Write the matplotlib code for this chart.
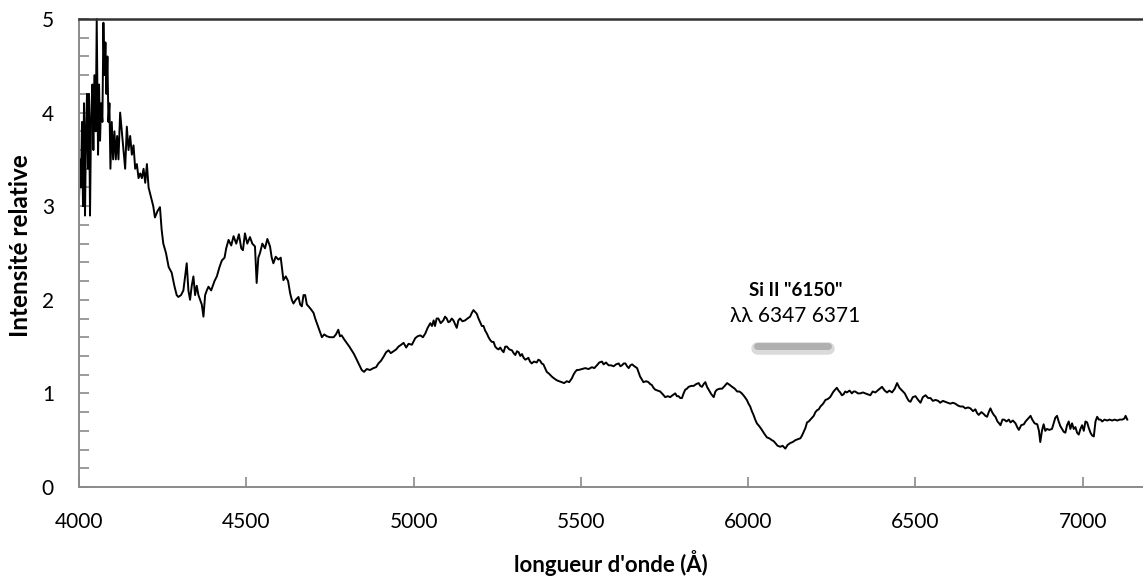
import numpy as np
import matplotlib
matplotlib.use("Agg")
import matplotlib.pyplot as plt
from matplotlib.ticker import MultipleLocator

# spectrum (wavelength in Angstrom, relative intensity)
wavelength = [
    4000, 4003, 4006, 4009, 4012, 4015, 4018, 4021, 4024, 4027, 4030, 4033, 4036, 4040,
    4043, 4046, 4050, 4053, 4057, 4060, 4063, 4066, 4070, 4073, 4076, 4079, 4082, 4085,
    4088, 4091, 4094, 4098, 4102, 4106, 4110, 4114, 4118, 4123, 4128, 4133, 4138, 4143,
    4148, 4153, 4158, 4163, 4168, 4173, 4178, 4183, 4188, 4193, 4198, 4203, 4208, 4215,
    4222, 4227, 4235, 4242, 4247, 4252, 4260, 4268, 4277, 4285, 4292, 4297, 4305, 4312,
    4317, 4322, 4327, 4332, 4337, 4342, 4347, 4352, 4357, 4362, 4367, 4372, 4377, 4382,
    4387, 4395, 4405, 4412, 4420, 4427, 4435, 4440, 4447, 4455, 4462, 4470, 4478, 4485,
    4490, 4496, 4503, 4511, 4518, 4526, 4531, 4536, 4541, 4548, 4556, 4563, 4571, 4576,
    4581, 4588, 4596, 4603, 4611, 4618, 4625, 4631, 4636, 4641, 4648, 4656, 4661, 4666,
    4671, 4676, 4681, 4686, 4693, 4701, 4706, 4711, 4718, 4726, 4733, 4741, 4750, 4761,
    4768, 4775, 4780, 4785, 4792, 4800, 4808, 4815, 4822, 4830, 4838, 4845, 4852, 4860,
    4870, 4880, 4888, 4895, 4903, 4910, 4918, 4925, 4932, 4940, 4948, 4955, 4963, 4970,
    4978, 4985, 4995, 5005, 5012, 5020, 5028, 5035, 5042, 5050, 5055, 5060, 5064, 5069,
    5074, 5081, 5089, 5094, 5099, 5104, 5109, 5114, 5119, 5124, 5129, 5134, 5139, 5146,
    5154, 5161, 5169, 5174, 5179, 5184, 5189, 5194, 5199, 5204, 5209, 5214, 5219, 5224,
    5229, 5234, 5239, 5244, 5249, 5254, 5259, 5264, 5269, 5274, 5279, 5286, 5294, 5299,
    5304, 5309, 5314, 5319, 5324, 5329, 5334, 5339, 5343, 5348, 5353, 5360, 5368, 5373,
    5378, 5383, 5388, 5393, 5398, 5405, 5413, 5420, 5428, 5435, 5443, 5450, 5458, 5465,
    5473, 5478, 5483, 5488, 5493, 5503, 5513, 5523, 5533, 5540, 5548, 5555, 5563, 5568,
    5575, 5583, 5590, 5598, 5605, 5613, 5618, 5623, 5628, 5633, 5638, 5643, 5648, 5653,
    5660, 5668, 5673, 5677, 5682, 5687, 5695, 5702, 5707, 5712, 5717, 5722, 5730, 5737,
    5745, 5752, 5760, 5767, 5774, 5782, 5787, 5792, 5797, 5802, 5807, 5812, 5817, 5822,
    5830, 5837, 5845, 5852, 5857, 5862, 5867, 5872, 5877, 5882, 5890, 5897, 5902, 5907,
    5915, 5922, 5930, 5937, 5945, 5952, 5960, 5967, 5974, 5981, 5988, 5996, 6001, 6006,
    6011, 6016, 6021, 6026, 6033, 6041, 6048, 6056, 6063, 6071, 6076, 6081, 6088, 6096,
    6103, 6111, 6118, 6126, 6133, 6141, 6148, 6156, 6161, 6166, 6171, 6176, 6181, 6186,
    6191, 6196, 6201, 6206, 6211, 6216, 6224, 6231, 6238, 6245, 6250, 6255, 6260, 6265,
    6270, 6275, 6280, 6285, 6290, 6295, 6303, 6310, 6315, 6320, 6328, 6335, 6343, 6350,
    6358, 6365, 6372, 6380, 6390, 6400, 6408, 6415, 6422, 6430, 6438, 6445, 6452, 6460,
    6468, 6475, 6480, 6485, 6492, 6500, 6508, 6515, 6522, 6530, 6538, 6545, 6552, 6560,
    6568, 6574, 6582, 6589, 6597, 6604, 6612, 6619, 6627, 6634, 6642, 6649, 6657, 6664,
    6672, 6679, 6684, 6689, 6697, 6704, 6709, 6714, 6719, 6724, 6729, 6734, 6739, 6745,
    6750, 6754, 6760, 6765, 6772, 6779, 6784, 6791, 6799, 6804, 6809, 6816, 6824, 6829,
    6834, 6839, 6844, 6849, 6856, 6864, 6869, 6873, 6878, 6883, 6888, 6893, 6900, 6908,
    6913, 6918, 6923, 6928, 6933, 6938, 6943, 6948, 6953, 6958, 6963, 6968, 6973, 6978,
    6983, 6988, 6993, 6998, 7003, 7008, 7013, 7018, 7023, 7028, 7033, 7038, 7043, 7048,
    7053, 7058, 7065, 7073, 7080, 7088, 7095, 7103, 7110, 7118, 7124, 7128, 7133,
]
intensity = [
    3.07, 3.50, 3.20, 3.90, 3.00, 4.10, 2.90, 3.80, 4.20, 3.40, 4.20, 2.90, 3.90, 4.30,
    3.60, 4.40, 3.80, 5.00, 3.55, 4.30, 3.70, 4.10, 3.90, 4.96, 4.40, 4.75, 4.20, 4.60,
    3.90, 4.10, 3.40, 3.90, 3.50, 3.80, 3.50, 3.75, 3.50, 4.00, 3.80, 3.60, 3.40, 3.85,
    3.60, 3.75, 3.55, 3.65, 3.40, 3.45, 3.30, 3.35, 3.30, 3.40, 3.25, 3.45, 3.20, 3.10,
    3.00, 2.88, 2.95, 2.99, 2.75, 2.60, 2.50, 2.35, 2.29, 2.15, 2.05, 2.03, 2.05, 2.10,
    2.25, 2.39, 2.10, 2.00, 2.15, 2.25, 2.05, 2.15, 2.05, 2.00, 1.95, 1.82, 2.05, 2.10,
    2.14, 2.10, 2.20, 2.25, 2.35, 2.42, 2.45, 2.55, 2.64, 2.58, 2.68, 2.60, 2.70, 2.55,
    2.53, 2.71, 2.60, 2.67, 2.60, 2.57, 2.18, 2.45, 2.50, 2.60, 2.55, 2.65, 2.57, 2.45,
    2.39, 2.46, 2.43, 2.45, 2.21, 2.25, 2.20, 2.07, 2.00, 1.96, 2.00, 2.03, 1.95, 1.93,
    2.05, 2.05, 1.95, 1.93, 1.90, 1.86, 1.80, 1.75, 1.68, 1.60, 1.63, 1.61, 1.60, 1.60,
    1.63, 1.68, 1.61, 1.62, 1.58, 1.54, 1.50, 1.46, 1.42, 1.36, 1.30, 1.25, 1.23, 1.26,
    1.25, 1.27, 1.28, 1.32, 1.35, 1.39, 1.44, 1.46, 1.43, 1.45, 1.47, 1.50, 1.52, 1.54,
    1.49, 1.53, 1.52, 1.59, 1.61, 1.62, 1.60, 1.64, 1.70, 1.75, 1.72, 1.78, 1.72, 1.80,
    1.80, 1.75, 1.78, 1.82, 1.80, 1.76, 1.77, 1.80, 1.78, 1.74, 1.70, 1.78, 1.80, 1.77,
    1.78, 1.80, 1.82, 1.86, 1.89, 1.87, 1.85, 1.80, 1.76, 1.72, 1.72, 1.67, 1.64, 1.60,
    1.57, 1.55, 1.55, 1.50, 1.48, 1.47, 1.49, 1.46, 1.44, 1.50, 1.50, 1.47, 1.46, 1.43,
    1.41, 1.45, 1.44, 1.40, 1.42, 1.38, 1.36, 1.37, 1.38, 1.34, 1.32, 1.34, 1.33, 1.36,
    1.35, 1.32, 1.31, 1.27, 1.23, 1.21, 1.18, 1.16, 1.14, 1.13, 1.12, 1.11, 1.13, 1.12,
    1.16, 1.20, 1.23, 1.25, 1.25, 1.26, 1.27, 1.26, 1.28, 1.27, 1.30, 1.33, 1.34, 1.31,
    1.33, 1.30, 1.30, 1.29, 1.31, 1.32, 1.29, 1.30, 1.32, 1.32, 1.29, 1.27, 1.30, 1.31,
    1.29, 1.27, 1.22, 1.18, 1.15, 1.12, 1.13, 1.12, 1.10, 1.09, 1.06, 1.04, 1.03, 1.02,
    0.99, 0.96, 0.97, 0.96, 0.98, 1.00, 0.97, 0.97, 0.95, 0.95, 1.00, 1.04, 1.05, 1.07,
    1.08, 1.08, 1.10, 1.11, 1.08, 1.07, 1.10, 1.12, 1.07, 1.04, 0.99, 0.96, 1.02, 1.04,
    1.05, 1.05, 1.08, 1.11, 1.09, 1.07, 1.05, 1.02, 1.02, 1.00, 0.97, 0.93, 0.89, 0.86,
    0.81, 0.77, 0.72, 0.68, 0.65, 0.61, 0.57, 0.53, 0.52, 0.50, 0.49, 0.47, 0.44, 0.43,
    0.44, 0.41, 0.45, 0.47, 0.48, 0.50, 0.51, 0.52, 0.55, 0.59, 0.63, 0.69, 0.70, 0.72,
    0.74, 0.76, 0.80, 0.82, 0.83, 0.86, 0.89, 0.93, 0.94, 0.96, 0.99, 1.02, 1.04, 1.06,
    1.03, 1.01, 0.98, 0.99, 1.02, 1.01, 1.03, 1.00, 1.02, 1.02, 1.00, 1.00, 1.01, 1.00,
    0.99, 0.98, 1.02, 1.01, 1.04, 1.07, 1.03, 1.01, 1.03, 1.01, 1.05, 1.11, 1.06, 1.03,
    1.00, 0.95, 0.92, 0.91, 0.96, 0.97, 0.93, 0.90, 0.96, 0.98, 0.95, 0.95, 0.92, 0.93,
    0.92, 0.90, 0.92, 0.91, 0.90, 0.89, 0.90, 0.89, 0.87, 0.86, 0.86, 0.84, 0.85, 0.84,
    0.81, 0.83, 0.79, 0.77, 0.80, 0.78, 0.76, 0.75, 0.80, 0.84, 0.80, 0.77, 0.75, 0.70,
    0.68, 0.66, 0.72, 0.72, 0.70, 0.72, 0.69, 0.71, 0.68, 0.64, 0.61, 0.66, 0.67, 0.70,
    0.72, 0.74, 0.76, 0.72, 0.68, 0.67, 0.60, 0.48, 0.60, 0.67, 0.60, 0.62, 0.61, 0.62,
    0.68, 0.74, 0.76, 0.70, 0.65, 0.62, 0.59, 0.58, 0.66, 0.70, 0.62, 0.68, 0.62, 0.64,
    0.58, 0.56, 0.62, 0.66, 0.60, 0.70, 0.69, 0.63, 0.58, 0.55, 0.54, 0.70, 0.75, 0.72,
    0.72, 0.70, 0.72, 0.71, 0.72, 0.71, 0.72, 0.71, 0.72, 0.72, 0.73, 0.76, 0.72,
]

x_ticks = [4000, 4500, 5000, 5500, 6000, 6500, 7000]
y_ticks = [0, 1, 2, 3, 4, 5]

# Si II line annotation
label_title = 'Si II "6150"'
label_lines = "λλ 6347 6371"
band_start, band_end = 6025, 6240

plt.rcParams["font.family"] = ["Lato", "DejaVu Sans"]

fig = plt.figure(figsize=(11.43, 5.83), dpi=100)
ax = fig.add_axes([0.0691, 0.1647, 0.9309, 0.8027])

ax.plot(wavelength, intensity, color="black", lw=1.4, clip_on=False)

ax.set_xlim(4000, 7180)
ax.set_ylim(0, 5)
ax.set_xticks(x_ticks)
ax.set_yticks(y_ticks)
ax.yaxis.set_minor_locator(MultipleLocator(0.2))

ax.spines["right"].set_visible(False)
ax.spines["top"].set_color("#333333")
ax.spines["top"].set_linewidth(1.8)
for s in ("left", "bottom"):
    ax.spines[s].set_color("#8a8a8a")
    ax.spines[s].set_linewidth(1.4)

ax.tick_params(axis="both", which="both", direction="in", color="#8a8a8a",
               width=1.2, length=7, labelsize=15)
ax.tick_params(axis="x", pad=18)
ax.tick_params(axis="y", pad=18)
ax.tick_params(axis="x", which="minor", bottom=False)

ax.set_xlabel("longueur d'onde (Å)", fontsize=16, fontweight="bold", labelpad=13)
ax.set_ylabel("Intensité relative", fontsize=17.5, fontweight="bold")
ax.yaxis.set_label_coords(-0.044, 0.515)

ax.text(6141, 2.10, label_title, ha="center", va="center", fontsize=13.5, fontweight="bold")
ax.text(6141, 1.83, label_lines, ha="center", va="center", fontsize=15)
# soft gray bar marking the absorption band
ax.plot([band_start, band_end], [1.49, 1.49], color="#dadada", lw=9, solid_capstyle="round")
ax.plot([band_start, band_end], [1.51, 1.51], color="#b0b0b0", lw=5, solid_capstyle="round")

fig.savefig("out.png", dpi=100)
